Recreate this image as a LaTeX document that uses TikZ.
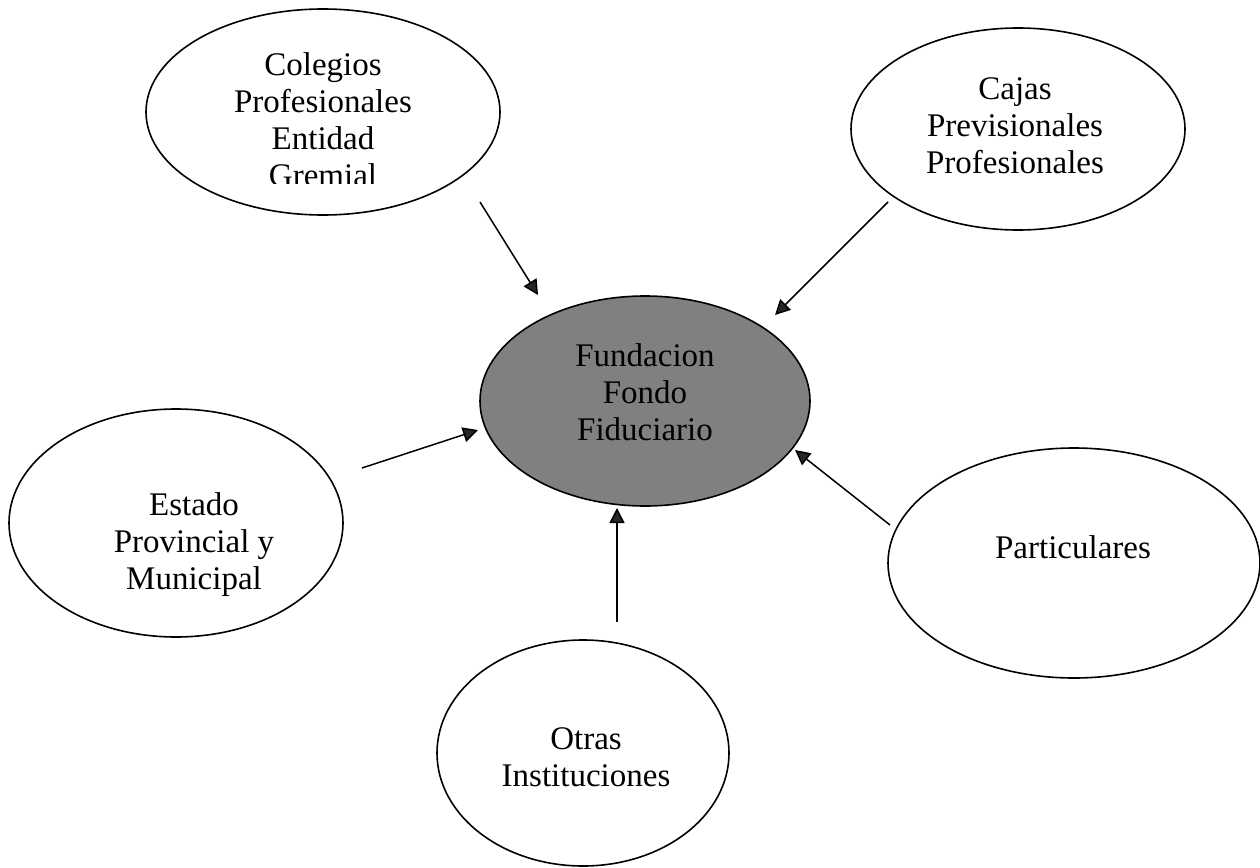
\documentclass[tikz,border=0pt]{standalone}
\usepackage{fontspec}
\setmainfont{Liberation Serif}
\usetikzlibrary{arrows.meta,shapes.geometric}
\tikzset{
  oval/.style={draw=black, line width=1.6pt, ellipse, inner sep=0pt},
  lbl/.style={align=center, inner sep=0pt, font=\fontsize{33}{37}\selectfont},
  feed/.style={draw=black, line width=1.5pt, -{Triangle[length=15pt, width=15pt, fill=black!85]}},
}
\begin{document}
\begin{tikzpicture}[x=1pt,y=-1pt]
\useasboundingbox (0,0) rectangle (1260,867);
\fill[white] (0,0) rectangle (1260,867);
% ellipses
\node[oval, minimum width=354pt, minimum height=206pt] (col) at (323,112) {};
\node[oval, minimum width=334pt, minimum height=202pt] (caj) at (1018,129) {};
\node[oval, fill=black!50, minimum width=330pt, minimum height=210pt] (fun) at (645,401) {};
\node[oval, minimum width=334pt, minimum height=228pt] (est) at (176,523) {};
\node[oval, minimum width=372pt, minimum height=230pt] (par) at (1074,563) {};
\node[oval, minimum width=292pt, minimum height=226pt] (otr) at (583,753) {};
% labels
\begin{scope}
\clip (150,0) rectangle (500,183);
\node[lbl] (coltxt) at (323,120) {Colegios\\Profesionales\\Entidad\\Gremial};
\end{scope}
\node[lbl] (cajtxt) at (1015,126) {Cajas\\Previsionales\\Profesionales};
\node[lbl] (funtxt) at (645,392) {Fundacion\\Fondo\\Fiduciario};
\node[lbl] (esttxt) at (194,545) {Estado\\Provincial y\\Municipal};
\node[lbl] (partxt) at (1073,547) {Particulares};
\node[lbl] (otrtxt) at (586,757) {Otras\\Instituciones};
% connector end points
\coordinate (c1) at (480,202);  \coordinate (t1) at (538,295);
\coordinate (c2) at (888,202);  \coordinate (t2) at (775,315);
\coordinate (c3) at (362,468);  \coordinate (t3) at (478,430);
\coordinate (c4) at (890,525);  \coordinate (t4) at (795,450);
\coordinate (c5) at (617,622);  \coordinate (t5) at (617,508);
\draw[feed] (c1) -- (t1);
\draw[feed] (c2) -- (t2);
\draw[feed] (c3) -- (t3);
\draw[feed] (c4) -- (t4);
\draw[feed] (c5) -- (t5);
\end{tikzpicture}
\end{document}
